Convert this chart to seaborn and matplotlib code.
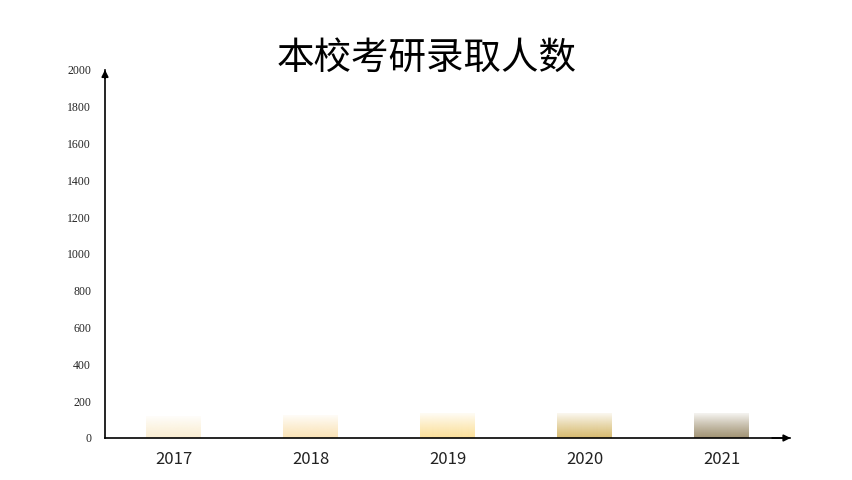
import numpy as np
import pandas as pd
import matplotlib
matplotlib.use("Agg")
import matplotlib.pyplot as plt
import matplotlib.colors as mcolors
import seaborn as sns

# data
years = ['2017', '2018', '2019', '2020', '2021']
admitted = [118, 122, 132, 133, 135]
bar_colors = ['#FBEED3', '#FBE4B8', '#FCE19C', '#D8BC72', '#A39576']
y_ticks = [0, 200, 400, 600, 800, 1000, 1200, 1400, 1600, 1800, 2000]

df = pd.DataFrame({'year': years, 'admitted': admitted})

sns.set_style('white')
plt.rcParams['font.family'] = ['Noto Sans CJK SC', 'DejaVu Sans']

fig = plt.figure(figsize=(8.53, 4.8), dpi=100)
ax = fig.add_axes([0.1231, 0.0875, 0.8030, 0.7667])

sns.barplot(data=df, x='year', y='admitted', ax=ax, width=0.4,
            color='white', edgecolor='none')

# replace flat fill with a vertical gradient (colour at the bottom, fading upward)
for patch, col in zip(ax.patches, bar_colors):
    x0, y0 = patch.get_x(), patch.get_y()
    w, h = patch.get_width(), patch.get_height()
    rgb = mcolors.to_rgb(col)
    n = 100
    img = np.zeros((n, 1, 4))
    img[:, 0, :3] = rgb
    t = np.linspace(0, 1, n)  # 0 = bottom, 1 = top
    img[:, 0, 3] = 1.0 - 0.9 * t ** 1.2
    ax.imshow(img, extent=[x0, x0 + w, y0, y0 + h], origin='lower',
              aspect='auto', zorder=2, interpolation='bicubic')
    patch.set_visible(False)

ax.set_xlim(-0.5, 4.5)
ax.set_ylim(0, 2000)
ax.set_yticks(y_ticks)
ax.set_yticklabels([str(v) for v in y_ticks], fontsize=8.5,
                   family=['Liberation Serif', 'DejaVu Serif'])
ax.tick_params(axis='y', length=0, pad=10)
ax.tick_params(axis='x', length=0, labelsize=12, pad=9, labelcolor='#222222')
ax.set_xlabel('')
ax.set_ylabel('')

for s in ['top', 'right']:
    ax.spines[s].set_visible(False)
for s in ['left', 'bottom']:
    ax.spines[s].set_color('black')
    ax.spines[s].set_linewidth(1.2)

# arrow heads on the axes
ax.annotate('', xy=(0, 1.008), xytext=(0, 0.97), xycoords='axes fraction',
            arrowprops=dict(arrowstyle='-|>', color='black', lw=1.2,
                            mutation_scale=10), annotation_clip=False)
ax.annotate('', xy=(1.005, 0), xytext=(0.97, 0), xycoords='axes fraction',
            arrowprops=dict(arrowstyle='-|>', color='black', lw=1.2,
                            mutation_scale=10), annotation_clip=False)

fig.text(0.5, 0.879, '本校考研录取人数', ha='center', va='center',
         fontsize=27, color='black')

fig.savefig('out.png', dpi=100)
